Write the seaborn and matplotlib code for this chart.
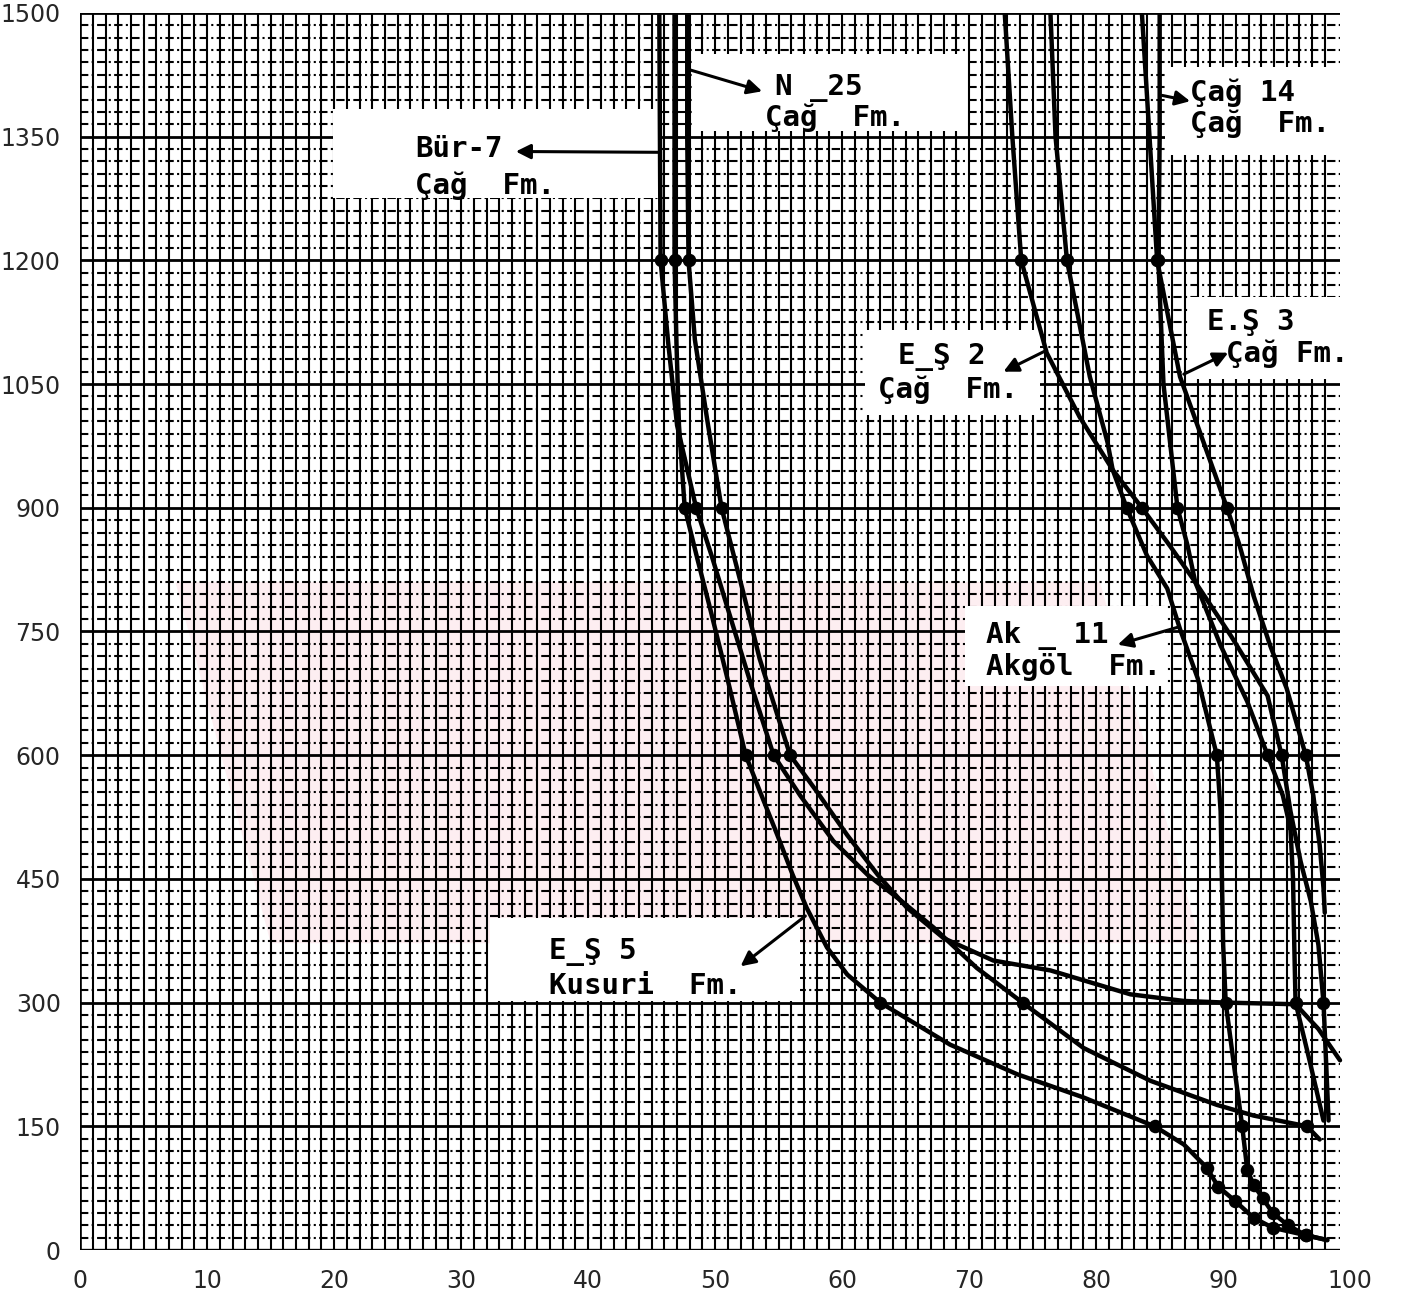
import numpy as np
import pandas as pd
import matplotlib
matplotlib.use("Agg")
import matplotlib.pyplot as plt
import seaborn as sns

# ---- well curves: percentage (x) versus depth in metres (y) ----
bur7_x = [45.6, 45.65, 45.7, 46.3, 47.0, 48.5, 49.8, 51.4, 53.0, 54.6, 56.7, 59.3,
          62.0, 64.6, 67.2, 70.6, 74.2, 79.0, 84.3, 89.5, 92.4, 96.6, 97.6]
bur7_depth = [1500, 1350, 1200, 1100, 1000, 900, 838, 757, 677, 600, 551, 496,
              455, 424, 391, 342, 300, 245, 205, 176, 163, 150, 134]
bur7_dots = [1200, 900, 600, 300, 150]

es5_x = [46.8, 46.8, 46.8, 46.95, 47.15, 47.6, 48.6, 49.6, 50.9, 52.4, 53.5, 54.9,
         56.1, 57.2, 58.8, 60.4, 63.0, 68.5, 73.8, 79.0, 84.6, 86.9, 88.7, 89.6,
         90.9, 92.4, 93.9, 96.5, 98.2]
es5_depth = [1500, 1350, 1200, 1100, 1000, 900, 838, 778, 697, 600, 557, 503,
             455, 415, 367, 334, 300, 249, 213, 185, 150, 128, 100, 77,
             60, 39, 27, 18, 12]
es5_dots = [1200, 900, 600, 300, 150, 100, 77, 60, 39, 27, 18]

n25_x = [47.8, 47.8, 47.9, 48.4, 49.4, 50.5, 51.2, 52.2, 53.5, 55.9, 58.0, 60.4,
         62.8, 65.1, 68.0, 71.9, 76.4, 82.7, 86.9, 90.2, 95.7, 97.5, 99.2]
n25_depth = [1500, 1350, 1200, 1104, 1004, 900, 858, 798, 717, 600, 556, 503,
             455, 415, 378, 351, 339, 310, 302, 300, 298, 268, 230]
n25_dots = [1200, 900, 600]

ak11_x = [76.4, 76.8, 77.7, 79.5, 80.9, 81.3, 82.4, 84.0, 85.6, 86.6, 88.0, 89.5,
          89.8, 89.9, 90.0, 90.2, 90.8, 91.5, 91.9, 92.4, 93.1, 93.9, 95.1, 96.5, 98.2]
ak11_depth = [1500, 1350, 1200, 1059, 979, 946, 900, 842, 802, 753, 693, 600,
              532, 451, 370, 300, 230, 150, 97, 79, 63, 45, 30, 18, 12]
ak11_dots = [1200, 900, 600, 300, 150, 97, 79, 63, 45, 30, 18]

es2_x = [72.8, 73.4, 74.1, 76.1, 78.7, 81.3, 83.6, 85.8, 87.8, 90.6, 93.5, 94.6,
         95.3, 96.1, 96.9, 97.5, 97.9, 98.1, 98.3]
es2_depth = [1500, 1350, 1200, 1088, 1010, 946, 900, 854, 810, 745, 672, 600,
             532, 471, 423, 370, 300, 230, 157]
es2_dots = [1200, 900, 600, 300]

cag14_x = [85.0, 85.0, 84.9, 85.3, 86.4, 87.2, 87.8, 89.8, 91.9, 93.5, 94.7, 95.3,
           95.5, 95.6, 95.7, 96.8, 97.9]
cag14_depth = [1500, 1350, 1200, 1050, 900, 854, 810, 733, 665, 600, 551, 511,
               451, 370, 300, 230, 157]
cag14_dots = [1200, 900, 600, 300]

es3_x = [83.6, 84.2, 84.8, 86.6, 88.0, 90.3, 91.3, 92.4, 93.7, 95.0, 96.5, 97.1,
         97.6, 97.9, 98.0]
es3_depth = [1500, 1350, 1200, 1059, 999, 900, 854, 793, 733, 681, 600, 551,
             491, 439, 409]
es3_dots = [1200, 900, 600]

x_ticks = [0, 10, 20, 30, 40, 50, 60, 70, 80, 90, 100]
y_ticks = [0, 150, 300, 450, 600, 750, 900, 1050, 1200, 1350, 1500]

wells = [
    ("Bür-7", bur7_x, bur7_depth, bur7_dots),
    ("E-Ş 5", es5_x, es5_depth, es5_dots),
    ("N-25", n25_x, n25_depth, n25_dots),
    ("Ak-11", ak11_x, ak11_depth, ak11_dots),
    ("E-Ş 2", es2_x, es2_depth, es2_dots),
    ("Çağ 14", cag14_x, cag14_depth, cag14_dots),
    ("E.Ş 3", es3_x, es3_depth, es3_dots),
]

rows, dot_rows = [], []
for name, xs, ds, dots in wells:
    for i, (xv, dv) in enumerate(zip(xs, ds)):
        rows.append({"well": name, "order": i, "pct": xv, "depth": dv})
        if dv in dots:
            dot_rows.append({"well": name, "pct": xv, "depth": dv})
curves = pd.DataFrame(rows)
points = pd.DataFrame(dot_rows)

sns.set_style("white")
plt.rcParams["font.family"] = ["DejaVu Sans"]

fig = plt.figure(figsize=(14.07, 12.94), dpi=100)
ax = fig.add_axes([0.057, 0.034, 0.9026, 0.956])
ax.set_xlim(0, 100)
ax.set_ylim(0, 1500)

# faint pink stamp printed on the sheet
ax.add_patch(plt.Polygon([(7.5, 810), (80.3, 810), (88.2, 372), (15.0, 372)],
                         closed=True, facecolor="#fdeef1", edgecolor="none",
                         zorder=0))

# ---- graph-paper background ----
paper_right = 99.2
ax.vlines(np.arange(0, 99, 1), 0, 1500, colors="black", lw=1.5, zorder=1)
minor_y = [v for v in np.arange(15, 1500, 15) if v % 150 != 0]
ax.hlines(minor_y, 0, paper_right, colors="black", lw=1.5,
          linestyles=[(0, (4, 1.6, 1, 1.6))], zorder=1)
ax.hlines(y_ticks, 0, paper_right, colors="black", lw=2.0, zorder=1)
ax.vlines(0, 0, 1500, colors="black", lw=2.6, zorder=1)
ax.hlines(0, 0, paper_right, colors="black", lw=2.4, zorder=1)

# white patches pasted over the paper for the well captions
patches = [
    (19.9, 45.5, 1275, 1384),
    (48.2, 69.7, 1357, 1450),
    (85.4, 100.0, 1328, 1434),
    (87.2, 100.0, 1056, 1156),
    (61.8, 75.6, 1012, 1115),
    (69.7, 85.4, 684, 781),
    (32.3, 56.7, 302, 402),
]
for x0, x1, y0, y1 in patches:
    ax.add_patch(plt.Rectangle((x0, y0), x1 - x0, y1 - y0, facecolor="white",
                               edgecolor="none", zorder=2))
ax.add_patch(plt.Rectangle((99.2, 0), 2, 1500, facecolor="white",
                           edgecolor="none", zorder=2))

# ---- curves and measured points ----
sns.lineplot(data=curves, x="pct", y="depth", units="well", estimator=None,
             sort=False, color="black", lw=3.2, ax=ax, zorder=3,
             solid_joinstyle="round", solid_capstyle="round")
sns.scatterplot(data=points, x="pct", y="depth", color="black", s=95,
                edgecolor="black", linewidth=0, ax=ax, zorder=4)

# ---- captions ----
cap = dict(family="DejaVu Sans Mono", fontweight="bold", fontsize=21,
           color="black", va="top", ha="left", zorder=5)
captions = [
    (26.4, 1352, "Bür-7"), (26.4, 1308, "Çağ  Fm."),
    (54.7, 1426, "N _25"), (53.9, 1390, "Çağ  Fm."),
    (87.4, 1420, "Çağ 14"), (87.4, 1383, "Çağ  Fm."),
    (88.7, 1142, "E.Ş 3"), (90.2, 1104, "Çağ Fm."),
    (64.4, 1100, "E_Ş 2"), (62.8, 1060, "Çağ  Fm."),
    (71.3, 763, "Ak _ 11"), (71.3, 724, "Akgöl  Fm."),
    (36.9, 378, "E_Ş 5"), (36.9, 337, "Kusuri  Fm."),
]
for tx, ty, s in captions:
    ax.text(tx, ty, s, **cap)

arrows = [
    ((45.7, 1331), (34.3, 1332)),
    ((48.0, 1431), (53.7, 1405)),
    ((85.2, 1400), (87.4, 1393)),
    ((86.9, 1062), (90.4, 1088)),
    ((76.1, 1091), (72.7, 1065)),
    ((86.4, 755), (81.7, 734)),
    ((57.1, 405), (52.0, 344)),
]
for tail, head in arrows:
    ax.annotate("", xy=head, xytext=tail, zorder=5,
                arrowprops=dict(arrowstyle="-|>", lw=2.2, color="black",
                                mutation_scale=22, shrinkA=0, shrinkB=0))

# ---- axes ----
for sp in ax.spines.values():
    sp.set_visible(False)
ax.set_xticks(x_ticks)
ax.set_yticks(y_ticks)
ax.set_xticklabels([str(v) for v in x_ticks])
ax.set_yticklabels([str(v) for v in y_ticks])
ax.tick_params(axis="both", which="major", length=6, width=1.8, color="black",
               labelsize=17, pad=8)
ax.set_xlabel("")
ax.set_ylabel("")
ax.grid(False)

fig.savefig("out.png", dpi=100, facecolor="white")
